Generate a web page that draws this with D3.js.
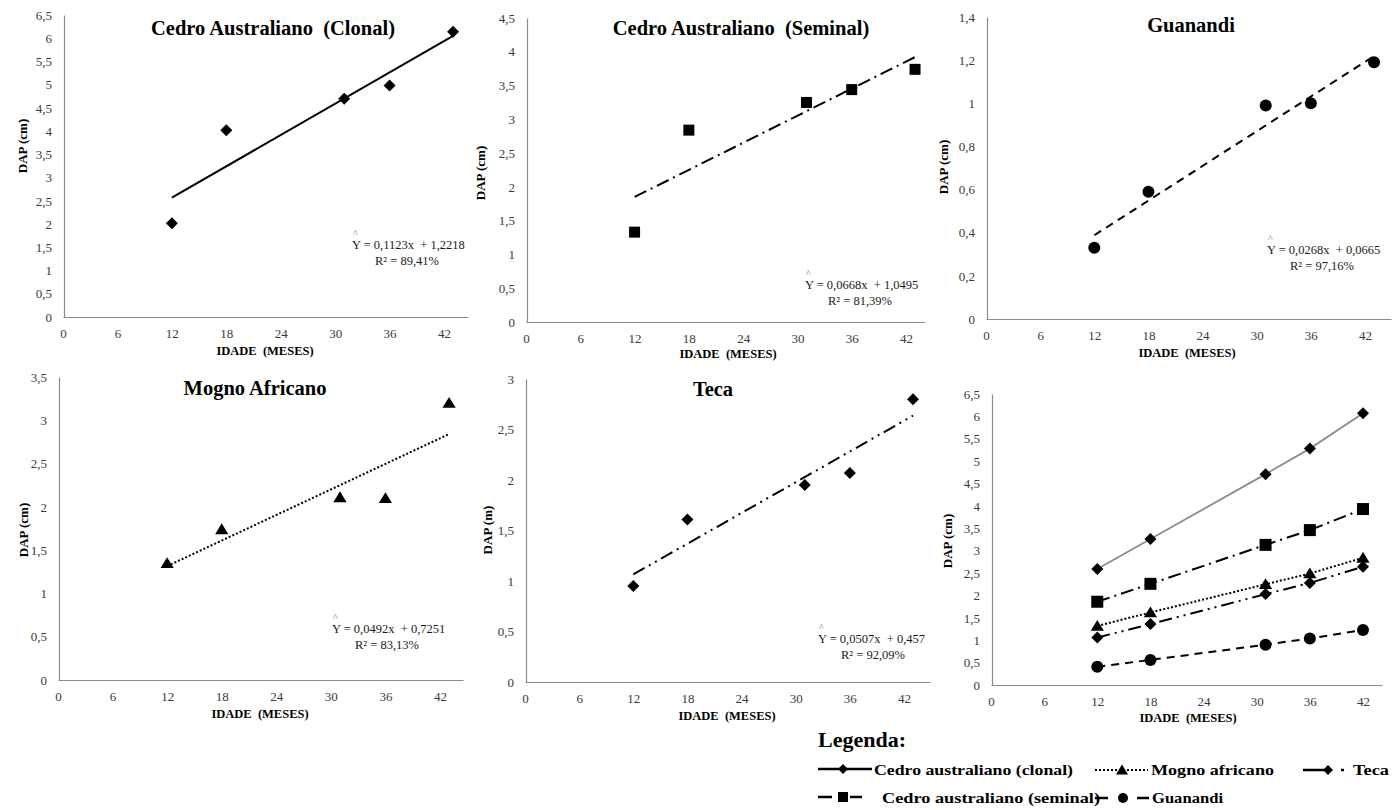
<!DOCTYPE html>
<html><head><meta charset="utf-8">
<script src="https://cdn.jsdelivr.net/npm/d3@7"></script>
<style>
body{margin:0;background:#fff;}
svg{display:block;font-family:"Liberation Serif","Times New Roman",serif;}
</style></head><body>
<svg id="chart" width="1392" height="810"></svg>
<script>
// Age (months) tick labels used on every x axis
const ageTicks = [0, 6, 12, 18, 24, 30, 36, 42];
// Ages at which the trees were measured
const ages = [12, 18, 31, 36, 43];
// Observed mean DAP (cm) per species
const dapClonal   = [2.02, 4.02, 4.70, 4.98, 6.14];
const dapSeminal  = [1.33, 2.84, 3.25, 3.44, 3.74];
const dapGuanandi = [0.33, 0.59, 0.99, 1.00, 1.19];
const dapMogno    = [1.35, 1.74, 2.11, 2.10, 3.20];
const dapTeca     = [0.95, 1.61, 1.95, 2.07, 2.80];
// Fitted linear models (slope, intercept, R²) in panel order
const fitSlope     = [0.1123, 0.0668, 0.0268, 0.0492, 0.0507];
const fitIntercept = [1.2218, 1.0495, 0.0665, 0.7251, 0.457];
const fitR2        = ["89,41%", "81,39%", "97,16%", "83,13%", "92,09%"];
// Combined panel: estimated DAP per species
const combinedAges = [12, 18, 31, 36, 42];
const estClonal   = [2.59, 3.26, 4.71, 5.28, 6.07];
const estSeminal  = [1.86, 2.26, 3.13, 3.46, 3.93];
const estMogno    = [1.32, 1.62, 2.25, 2.49, 2.84];
const estTeca     = [1.06, 1.36, 2.03, 2.28, 2.64];
const estGuanandi = [0.41, 0.56, 0.90, 1.04, 1.23];
// Y tick values
const yTicks65 = [0, 0.5, 1, 1.5, 2, 2.5, 3, 3.5, 4, 4.5, 5, 5.5, 6, 6.5];
const yTicks45 = [0, 0.5, 1, 1.5, 2, 2.5, 3, 3.5, 4, 4.5];
const yTicks14 = [0, 0.2, 0.4, 0.6, 0.8, 1, 1.2, 1.4];
const yTicks35 = [0, 0.5, 1, 1.5, 2, 2.5, 3, 3.5];
const yTicks30 = [0, 0.5, 1, 1.5, 2, 2.5, 3];

const svg = d3.select("#chart");
const fmt = v => String(+v.toFixed(4)).replace(".", ",");

// line styles and markers per species
const styles = {
  clonal:   {marker: "diamond",  dash: null},
  seminal:  {marker: "square",   dash: "13,5,2,5"},
  guanandi: {marker: "circle",   dash: "8,6"},
  mogno:    {marker: "triangle", dash: "2,2"},
  teca:     {marker: "diamond",  dash: "13,5,2,5,2,5"}
};

function marker(g, type, x, y, s) {
  let p;
  if (type === "diamond") p = `M${x},${y - s}L${x + s},${y}L${x},${y + s}L${x - s},${y}Z`;
  else if (type === "square") p = `M${x - s},${y - s}h${2 * s}v${2 * s}h${-2 * s}Z`;
  else if (type === "triangle") p = `M${x},${y - s}L${x + s * 1.1},${y + s * 0.8}L${x - s * 1.1},${y + s * 0.8}Z`;
  if (type === "circle") g.append("circle").attr("cx", x).attr("cy", y).attr("r", s).attr("fill", "#000");
  else g.append("path").attr("d", p).attr("fill", "#000");
}

const panels = [
  {key: "clonal", title: "Cedro Australiano  (Clonal)", ylab: "DAP (cm)", dap: dapClonal, yTicks: yTicks65,
   x0: 63, x42: 444, xEnd: 468, y0: 317, yTop: 15, titleX: 273, titleY: 35, ylabX: 22, ylabY: 146, xlabX: 265, xlabY: 355,
   eqX: 352, eqY: 249, ms: 6},
  {key: "seminal", title: "Cedro Australiano  (Seminal)", ylab: "DAP (cm)", dap: dapSeminal, yTicks: yTicks45,
   x0: 526, x42: 906, xEnd: 925, y0: 322, yTop: 18, titleX: 741, titleY: 35, ylabX: 480, ylabY: 173, xlabX: 728, xlabY: 358,
   eqX: 805, eqY: 289, ms: 5.5},
  {key: "guanandi", title: "Guanandi", ylab: "DAP (cm)", dap: dapGuanandi, yTicks: yTicks14,
   x0: 986, x42: 1365, xEnd: 1391, y0: 319, yTop: 17, titleX: 1191, titleY: 32, ylabX: 943, ylabY: 167, xlabX: 1187, xlabY: 357,
   eqX: 1267, eqY: 254, ms: 6},
  {key: "mogno", title: "Mogno Africano", ylab: "DAP (cm)", dap: dapMogno, yTicks: yTicks35,
   x0: 58, x42: 440, xEnd: 463, y0: 680, yTop: 377, titleX: 255, titleY: 395, ylabX: 23, ylabY: 530, xlabX: 260, xlabY: 718,
   eqX: 332, eqY: 633, ms: 6},
  {key: "teca", title: "Teca", ylab: "DAP (m)", dap: dapTeca, yTicks: yTicks30,
   x0: 525, x42: 904, xEnd: 930, y0: 682, yTop: 379, titleX: 713, titleY: 396, ylabX: 487, ylabY: 530, xlabX: 727, xlabY: 720,
   eqX: 818, eqY: 643, ms: 6}
];

function drawAxes(g, p) {
  const xMax = 42 * (p.xEnd - p.x0) / (p.x42 - p.x0);
  const x = d3.scaleLinear().domain([0, xMax]).range([p.x0, p.xEnd]);
  const yMax = p.yTicks[p.yTicks.length - 1];
  const y = d3.scaleLinear().domain([0, yMax]).range([p.y0, p.yTop]);

  const xa = g.append("g").attr("transform", `translate(0,${p.y0})`)
    .call(d3.axisBottom(x).tickValues(ageTicks).tickSize(0).tickSizeOuter(0).tickPadding(12).tickFormat(d => d));
  const ya = g.append("g").attr("transform", `translate(${p.x0 + 1},0)`)
    .call(d3.axisLeft(y).tickValues(p.yTicks).tickSize(0).tickSizeOuter(0).tickPadding(12).tickFormat(fmt));
  [xa, ya].forEach(a => {
    a.select(".domain").attr("stroke", "#8c8c8c").attr("stroke-width", 1.2);
    a.selectAll("text").attr("font-family", "Liberation Serif").attr("font-size", 13).attr("fill", "#3a3a3a");
  });

  g.append("text").attr("x", p.xlabX).attr("y", p.xlabY).attr("text-anchor", "middle")
    .attr("font-weight", "bold").attr("font-size", 12.5).style("white-space", "pre").text("IDADE  (MESES)");
  g.append("text").attr("transform", `translate(${p.ylabX},${p.ylabY}) rotate(-90)`)
    .attr("text-anchor", "middle").attr("dominant-baseline", "central")
    .attr("font-weight", "bold").attr("font-size", 13).text(p.ylab);
  return {x, y};
}

// individual species panels
panels.forEach((p, i) => {
  const g = svg.append("g");
  const {x, y} = drawAxes(g, p);
  const st = styles[p.key];

  g.append("text").attr("x", p.titleX).attr("y", p.titleY).attr("text-anchor", "middle")
    .attr("font-weight", "bold").attr("font-size", 20.5).style("white-space", "pre").text(p.title);

  // fitted trend line from the stated equation
  const x1 = ages[0], x2 = ages[ages.length - 1];
  g.append("line")
    .attr("x1", x(x1)).attr("y1", y(fitSlope[i] * x1 + fitIntercept[i]))
    .attr("x2", x(x2)).attr("y2", y(fitSlope[i] * x2 + fitIntercept[i]))
    .attr("stroke", "#000").attr("stroke-width", 2)
    .attr("stroke-dasharray", st.dash);

  ages.forEach((a, j) => marker(g, st.marker, x(a), y(p.dap[j]), p.ms));

  // equation and R²
  const eq = g.append("g").attr("font-size", 12.5).attr("fill", "#1a1a1a");
  eq.append("text").attr("x", p.eqX).attr("y", p.eqY).style("white-space", "pre")
    .text(`Y = ${fmt(fitSlope[i])}x  + ${fmt(fitIntercept[i])}`);
  eq.append("text").attr("x", p.eqX + 1).attr("y", p.eqY - 12).attr("font-size", 10).attr("fill", "#777").text("^");
  eq.append("text").attr("x", p.eqX + 23).attr("y", p.eqY + 16).text(`R² = ${fitR2[i]}`);
});

// combined panel
{
  const p = {ylab: "DAP (cm)", yTicks: yTicks65, x0: 991, x42: 1363, xEnd: 1382, y0: 685, yTop: 394,
    ylabX: 947, ylabY: 541, xlabX: 1188, xlabY: 722};
  const g = svg.append("g");
  const {x, y} = drawAxes(g, p);
  const series = [
    {key: "clonal", v: estClonal, color: "#8c8c8c", ms: 6},
    {key: "seminal", v: estSeminal, color: "#000", ms: 6},
    {key: "mogno", v: estMogno, color: "#000", ms: 6},
    {key: "teca", v: estTeca, color: "#000", ms: 6},
    {key: "guanandi", v: estGuanandi, color: "#000", ms: 6}
  ];
  const line = d3.line().x((d, j) => x(combinedAges[j])).y(d => y(d));
  series.forEach(s => {
    g.append("path").attr("d", line(s.v)).attr("fill", "none").attr("stroke", s.color)
      .attr("stroke-width", s.key === "clonal" ? 1.8 : 2).attr("stroke-dasharray", styles[s.key].dash);
  });
  series.forEach(s => s.v.forEach((d, j) => marker(g, styles[s.key].marker, x(combinedAges[j]), y(d), s.ms)));
}

// legend
{
  const g = svg.append("g");
  g.append("text").attr("x", 818).attr("y", 747).attr("font-weight", "bold").attr("font-size", 22).text("Legenda:");
  const txt = (x, y, t, w) => g.append("text").attr("x", x).attr("y", y).attr("font-weight", "bold")
    .attr("font-size", 15.5).attr("textLength", w).attr("lengthAdjust", "spacingAndGlyphs").text(t);
  const seg = (x1, x2, y, dash, w) => g.append("line").attr("x1", x1).attr("x2", x2).attr("y1", y).attr("y2", y)
    .attr("stroke", "#000").attr("stroke-width", w || 2.5).attr("stroke-dasharray", dash);

  // row 1
  seg(818, 872, 769);
  marker(g, "diamond", 843, 769, 5);
  txt(874, 775, "Cedro australiano (clonal)", 199);

  seg(1095, 1148, 770, "2,2", 2);
  marker(g, "triangle", 1122, 770, 5.5);
  txt(1151, 775, "Mogno africano", 123);

  seg(1303, 1325, 770);
  marker(g, "diamond", 1328, 770, 5);
  seg(1341, 1344, 770);
  txt(1353, 775, "Teca", 36);

  // row 2
  seg(818, 832, 797);
  g.append("rect").attr("x", 838).attr("y", 792).attr("width", 10).attr("height", 10).attr("fill", "#000");
  seg(850, 862, 797);
  txt(882, 803, "Cedro australiano (seminal)", 218);

  seg(1095, 1108, 798);
  marker(g, "circle", 1123, 798, 5);
  seg(1137, 1149, 798);
  txt(1152, 803, "Guanandi", 71);
}
</script>
</body></html>
